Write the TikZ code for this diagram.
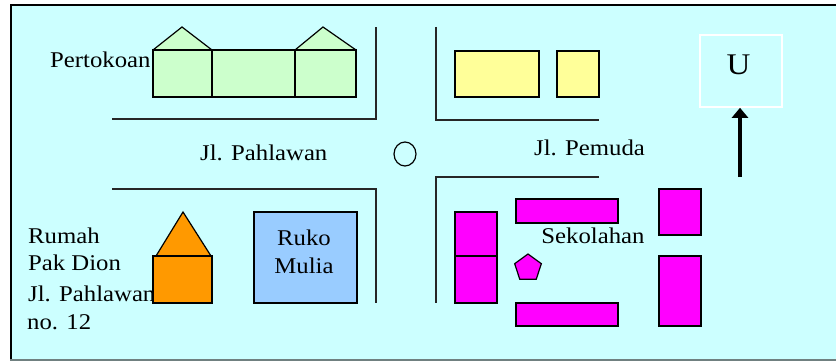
\documentclass[tikz,border=0pt]{standalone}
\usepackage{fontspec}
\setmainfont[FakeStretch=1.1]{Liberation Serif}
\usetikzlibrary{arrows.meta,shapes.geometric}
\definecolor{bgcyan}{HTML}{CCFFFF}
\definecolor{shopgreen}{HTML}{CCFFCC}
\definecolor{shopyellow}{HTML}{FFFF99}
\definecolor{schoolmag}{HTML}{FF00FF}
\definecolor{houseorange}{HTML}{FF9900}
\definecolor{rukoblue}{HTML}{99CCFF}
\definecolor{framegray}{HTML}{708080}
\tikzset{
  bld/.style={draw=black,line width=1.6pt,line join=miter},
  road/.style={draw=black!85,line width=1.6pt},
  lbl/.style={inner sep=0pt,font=\fontsize{22.5}{26}\selectfont},
}
\begin{document}
\begin{tikzpicture}[x=1pt,y=-1pt]
\useasboundingbox (0,0) rectangle (836,361);
% frame
\fill[bgcyan] (10,4) rectangle (836,360);
\draw[black,line width=2pt] (11,360) -- (11,5) -- (836,5);
\draw[framegray,line width=2pt] (10,359.5) -- (836,359.5);
% roads
\draw[road] (112,119) -- (376,119) -- (376,27);
\draw[road] (436,27) -- (436,120) -- (599,120);
\draw[road] (112,189) -- (376,189) -- (376,303);
\draw[road] (599,177) -- (436,177) -- (436,303);
\node[draw=black,line width=1.2pt,ellipse,minimum width=22pt,minimum height=24pt,inner sep=0pt] (bundaran) at (405,154) {};
% pertokoan
\draw[bld,fill=shopgreen,line width=1.2pt] (153,50) -- (182,27) -- (212,50);
\draw[bld,fill=shopgreen,line width=1.2pt] (295,50) -- (323,27) -- (356,50);
\draw[bld,fill=shopgreen] (153,50) rectangle (212,97);
\draw[bld,fill=shopgreen] (212,50) rectangle (295,97);
\draw[bld,fill=shopgreen] (295,50) rectangle (356,97);
% yellow shops
\draw[bld,fill=shopyellow] (455,51) rectangle (539,97);
\draw[bld,fill=shopyellow] (557,51) rectangle (599,97);
% labels
\node[lbl,anchor=base west] (pertokoan) at (50,67) {Pertokoan};
\node[lbl,anchor=base west] (jlpahlawan) at (200,160) {Jl. Pahlawan};
\node[lbl,anchor=base west] (jlpemuda) at (534,155) {Jl. Pemuda};
\node[lbl,anchor=base west] (rumah1) at (28,243) {Rumah};
\node[lbl,anchor=base west] (rumah2) at (28,270) {Pak Dion};
\node[lbl,anchor=base west] (rumah3) at (28,301) {Jl. Pahlawan};
\node[lbl,anchor=base west] (rumah4) at (27,329) {no. 12};
% house of Pak Dion
\draw[bld,fill=houseorange,line width=1.2pt] (156,256) -- (183,212) -- (211,256);
\draw[bld,fill=houseorange] (153,256) rectangle (212,303);
% Ruko Mulia
\draw[bld,fill=rukoblue] (254,212) rectangle (357,303);
\node[lbl,anchor=base] (ruko1) at (304,245) {Ruko};
\node[lbl,anchor=base] (ruko2) at (304,273) {Mulia};
% Sekolahan
\draw[bld,fill=schoolmag] (455,212) rectangle (497,256);
\draw[bld,fill=schoolmag] (455,256) rectangle (497,303);
\draw[bld,fill=schoolmag] (516,199) rectangle (618,223);
\draw[bld,fill=schoolmag] (516,303) rectangle (618,326);
\draw[bld,fill=schoolmag] (659,189) rectangle (701,235);
\draw[bld,fill=schoolmag] (659,256) rectangle (701,326);
\node[draw=black,line width=1.2pt,fill=schoolmag,regular polygon,regular polygon sides=5,minimum size=28pt,inner sep=0pt] (tiang) at (528,268) {};
\node[lbl,anchor=base] (sekolahan) at (593,243) {Sekolahan};
% north
\node[draw=white,line width=1.6pt,minimum width=82pt,minimum height=72pt,inner sep=0pt] (ubox) at (741,71) {};
\node[inner sep=0pt,anchor=base,font=\fontsize{30}{34}\selectfont] (utara) at (738.5,75) {U};
\coordinate (arrowtail) at (740,177);
\draw[black,line width=4pt,-{Triangle[width=16pt,length=10pt]}] (arrowtail) -- (ubox.south -| arrowtail);
\end{tikzpicture}
\end{document}
